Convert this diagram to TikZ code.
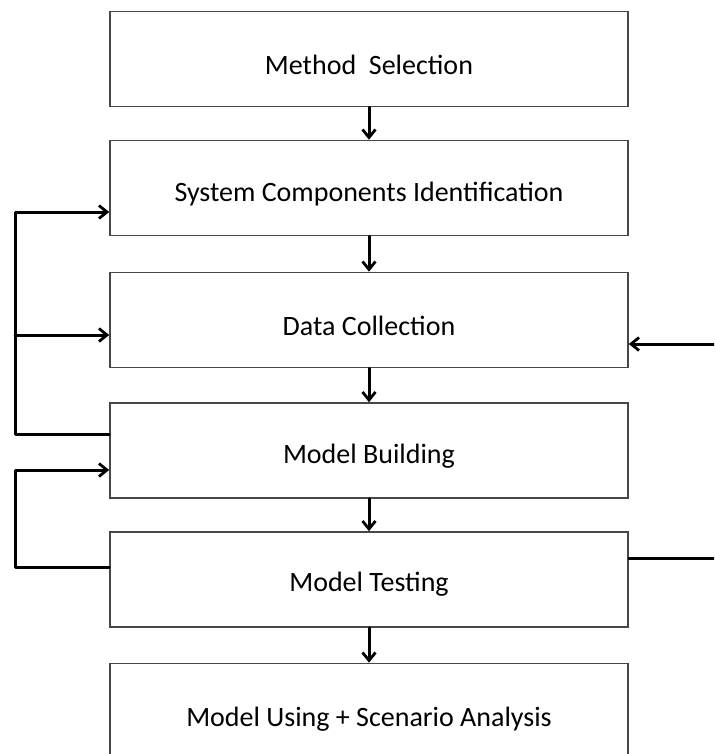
\documentclass[tikz,border=0pt]{standalone}
\usepackage{fontspec}
\setmainfont{Carlito}
\usetikzlibrary{arrows.meta}
\begin{document}
\begin{tikzpicture}[x=1pt,y=-1pt,
  stepbox/.style={draw=black!72,line width=1.6pt,rectangle,minimum width=518pt,minimum height=95pt,inner sep=0pt},
  steptext/.style={font=\fontsize{28}{33}\selectfont,inner sep=0pt},
  conn/.style={line width=3pt,line join=round,line cap=round},
  arr/.style={conn,-{Straight Barb[length=8pt,width=13pt,line width=2.8pt]}}]
\useasboundingbox (0,0) rectangle (714,754);
\clip (0,0) rectangle (714,754);
% process steps
\node[stepbox] (b1) at (369,59) {};
\node[stepbox] (b2) at (369,188) {};
\node[stepbox] (b3) at (369,320) {};
\node[stepbox] (b4) at (369,450.5) {};
\node[stepbox] (b5) at (369,579.5) {};
\node[stepbox] (b6) at (369,711) {};
\node[steptext] (t1) at ([yshift=-6pt]b1.center) {Method\ \ Selection};
\node[steptext] (t2) at ([yshift=-6pt]b2.center) {System Components Identification};
\node[steptext] (t3) at ([yshift=-6pt]b3.center) {Data Collection};
\node[steptext] (t4) at ([yshift=-6pt]b4.center) {Model Building};
\node[steptext] (t5) at ([yshift=-5pt]b5.center) {Model Testing};
\node[steptext] (t6) at ([yshift=-8pt]b6.center) {Model Using + Scenario Analysis};
% main flow
\draw[arr] (b1.south) -- (b2.north);
\draw[arr] (b2.south) -- (b3.north);
\draw[arr] (b3.south) -- (b4.north);
\draw[arr] (b4.south) -- (b5.north);
\draw[arr] (b5.south) -- (b6.north);
% feedback loops on the left
\coordinate (la) at (15,212);
\coordinate (lb) at (15,335);
\coordinate (lc) at (15,434);
\coordinate (ld) at (15,470);
\coordinate (le) at (15,567);
\draw[arr] (b4.west |- lc) -- (lc) -- (la) -- (b2.west |- la);
\draw[arr] (lb) -- (b3.west |- lb);
\draw[arr] (b5.west |- le) -- (le) -- (ld) -- (b4.west |- ld);
% return path on the right
\coordinate (ra) at (725,344);
\coordinate (rb) at (725,558);
\draw[arr] (ra) -- (b3.east |- ra);
\draw[conn] (b5.east |- rb) -- (rb);
\end{tikzpicture}
\end{document}
